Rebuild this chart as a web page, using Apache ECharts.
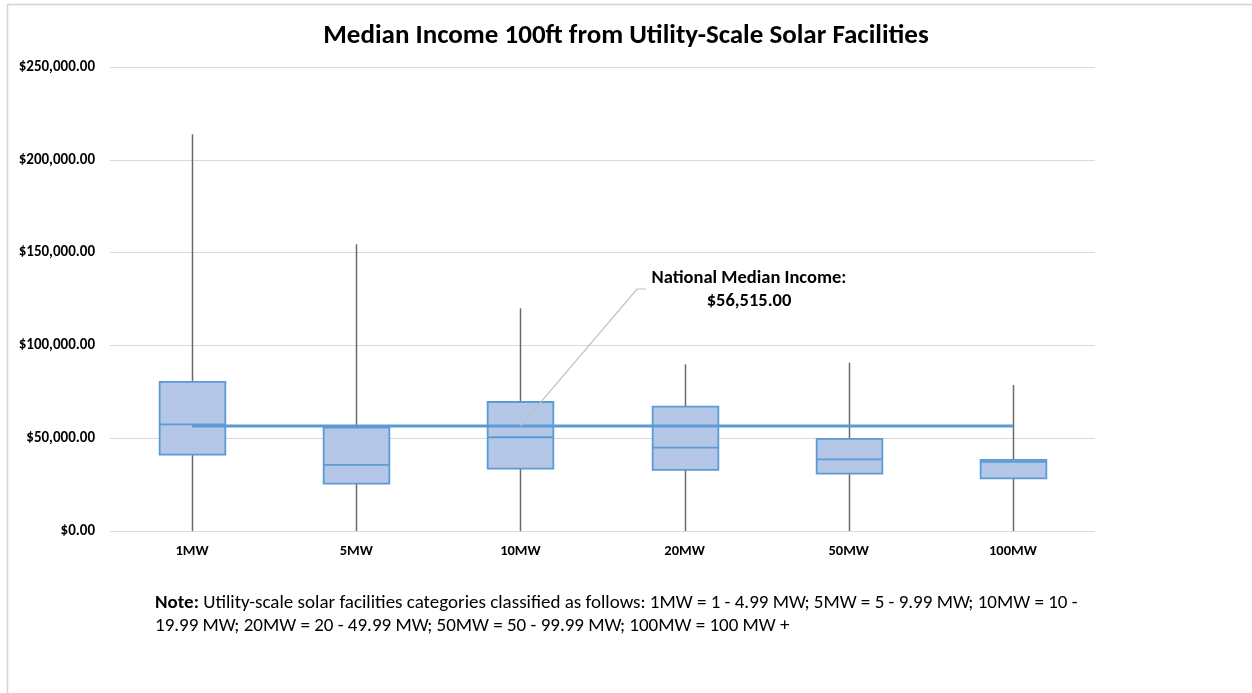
<!DOCTYPE html>
<html>
<head>
<meta charset="utf-8">
<title>Median Income 100ft from Utility-Scale Solar Facilities</title>
<script src="https://cdn.jsdelivr.net/npm/echarts@6/dist/echarts.min.js"></script>
<style>
  html, body { margin: 0; padding: 0; background: #fff; }
  #chart { width: 1252px; height: 693px; }
</style>
</head>
<body>
<div id="chart"></div>
<script>
// Facility size categories
const categories = ['1MW', '5MW', '10MW', '20MW', '50MW', '100MW'];

// Box stats per category
const minVals    = [0, 0, 0, 0, 0, 0];
const q1Vals     = [41100, 25500, 33600, 32900, 30900, 28400];
const medianVals = [57500, 35600, 50500, 44900, 38600, 37300];
const q3Vals     = [80400, 55700, 69500, 67000, 49600, 38300];
const maxVals    = [213700, 154500, 120000, 89800, 90700, 78700];

// Reference line
const nationalMedian = 56515;

// Y axis ticks
const yTicks = [0, 50000, 100000, 150000, 200000, 250000];

const FONT = "Carlito, 'Liberation Sans Narrow', 'DejaVu Sans Condensed', sans-serif";
const BLUE = '#5b9bd5';
const FILL = '#b4c7e7';

const money = v => '$' + v.toLocaleString('en-US', { minimumFractionDigits: 2, maximumFractionDigits: 2 });

const boxData = categories.map((c, i) => [i, minVals[i], q1Vals[i], medianVals[i], q3Vals[i], maxVals[i]]);

function renderBox(params, api) {
    const idx = api.value(0);
    const lo = api.coord([idx, api.value(1)]);
    const q1 = api.coord([idx, api.value(2)]);
    const md = api.coord([idx, api.value(3)]);
    const q3 = api.coord([idx, api.value(4)]);
    const hi = api.coord([idx, api.value(5)]);
    const half = api.size([1, 0])[0] * 0.2;
    const x = Math.round(lo[0]) + 0.5;
    return {
        type: 'group',
        children: [
            { type: 'line', shape: { x1: x, y1: hi[1], x2: x, y2: lo[1] },
              style: { stroke: '#6a6a6a', lineWidth: 1.5 } },
            { type: 'rect', shape: { x: x - half, y: q3[1], width: half * 2, height: q1[1] - q3[1] },
              style: { fill: FILL, stroke: BLUE, lineWidth: 1.8 } },
            { type: 'line', shape: { x1: x - half, y1: md[1], x2: x + half, y2: md[1] },
              style: { stroke: BLUE, lineWidth: 1.8 } }
        ]
    };
}

const chart = echarts.init(document.getElementById('chart'));

chart.setOption({
    animation: false,
    backgroundColor: '#fff',
    title: {
        text: 'Median Income 100ft from Utility-Scale Solar Facilities',
        left: 'center',
        top: 18,
        textStyle: { fontFamily: FONT, fontSize: 27, fontWeight: 'bold', color: '#000' }
    },
    grid: { left: 110, right: 157, top: 67, bottom: 162 },
    xAxis: {
        type: 'category',
        data: categories,
        axisLine: { show: false },
        axisTick: { show: false },
        axisLabel: { margin: 13, fontFamily: FONT, fontSize: 14.5, fontWeight: 'bold', color: '#000' }
    },
    yAxis: {
        type: 'value',
        min: yTicks[0],
        max: yTicks[yTicks.length - 1],
        interval: 50000,
        axisLine: { show: false },
        axisTick: { show: false },
        splitLine: { lineStyle: { color: '#d9d9d9', width: 1 } },
        axisLabel: { margin: 15, fontFamily: FONT, fontSize: 15, fontWeight: 'bold', color: '#000',
                     formatter: v => money(v) }
    },
    series: [
        {
            type: 'custom',
            renderItem: renderBox,
            encode: { x: 0, y: [1, 2, 3, 4, 5] },
            data: boxData,
            z: 2
        },
        {
            type: 'line',
            data: categories.map(() => nationalMedian),
            symbol: 'none',
            lineStyle: { color: BLUE, width: 3 },
            z: 3
        }
    ]
});

// annotation + frame
const anchor = chart.convertToPixel({ gridIndex: 0 }, ['10MW', nationalMedian]);
chart.setOption({
    graphic: [
        { type: 'line', shape: { x1: 8, y1: 4.5, x2: 1252, y2: 4.5 }, style: { stroke: '#d4d4d4', lineWidth: 1.5 } },
        { type: 'line', shape: { x1: 7.5, y1: 4, x2: 7.5, y2: 693 }, style: { stroke: '#d4d4d4', lineWidth: 1.5 } },
        { type: 'polyline', shape: { points: [[anchor[0], anchor[1]], [637, 289], [646, 289]] },
          style: { stroke: '#bfbfbf', lineWidth: 1.2, fill: null }, z: 10 },
        { type: 'text', x: 749, y: 290, z: 10,
          style: { text: 'National Median Income:\n' + money(nationalMedian), align: 'center', verticalAlign: 'middle',
                   font: 'bold 18.5px ' + FONT, fill: '#000', lineHeight: 23 } },
        { type: 'text', x: 155, y: 592, z: 10,
          style: {
              text: '{b|Note:} Utility-scale solar facilities categories classified as follows: 1MW = 1 - 4.99 MW; 5MW = 5 - 9.99 MW; 10MW = 10 -\n19.99 MW; 20MW = 20 - 49.99 MW; 50MW = 50 - 99.99 MW; 100MW = 100 MW +',
              font: '19px ' + FONT, fill: '#000', lineHeight: 23,
              rich: { b: { fontWeight: 'bold', fontFamily: FONT, fontSize: 19, fill: '#000', lineHeight: 23 } }
          } }
    ]
});

window.addEventListener('resize', () => chart.resize());
</script>
</body>
</html>
